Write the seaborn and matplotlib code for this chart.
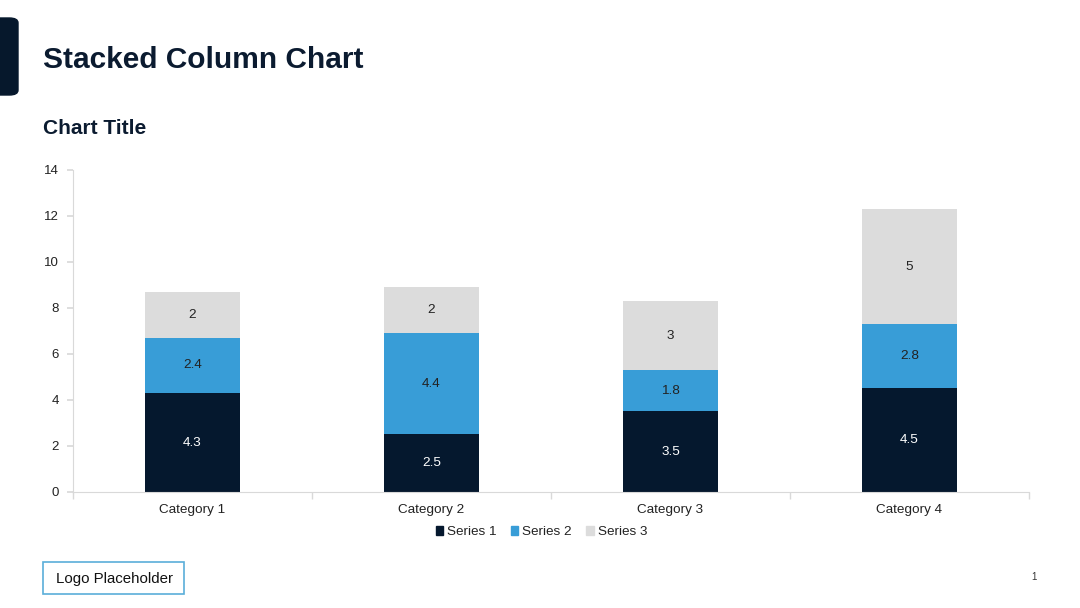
import numpy as np
import pandas as pd
import matplotlib.pyplot as plt
import seaborn as sns
from matplotlib.patches import FancyBboxPatch, Rectangle

categories = ['Category 1', 'Category 2', 'Category 3', 'Category 4']
series_names = ['Series 1', 'Series 2', 'Series 3']
series_1 = [4.3, 2.5, 3.5, 4.5]
series_2 = [2.4, 4.4, 1.8, 2.8]
series_3 = [2, 2, 3, 5]

colors = ['#05182E', '#389DD7', '#DCDCDC']
label_colors = ['white', '#222222', '#222222']
navy = '#0B1B30'

sns.set_theme(style='white')
plt.rcParams['font.family'] = ['Liberation Sans', 'DejaVu Sans']

df = pd.DataFrame({'category': categories, 'Series 1': series_1,
                   'Series 2': series_2, 'Series 3': series_3})

fig = plt.figure(figsize=(10.8, 6.08), dpi=100)
ax = fig.add_axes([0.0676, 0.1908, 0.8852, 0.5296])

bottom = np.zeros(len(categories))
for name, col, lcol in zip(series_names, colors, label_colors):
    vals = df[name].values
    sns.barplot(data=df, x='category', y=name, color=col, width=0.4,
                bottom=bottom, ax=ax, saturation=1, linewidth=0)
    for i, v in enumerate(vals):
        ax.text(i, bottom[i] + v / 2, f'{v:g}', ha='center', va='center',
                fontsize=9.7, color=lcol)
    bottom = bottom + vals

ax.set_xlim(-0.5, 3.5)
ax.set_ylim(0, 14)
ax.set_yticks(range(0, 15, 2))
ax.set_xlabel('')
ax.set_ylabel('')
for s in ['top', 'right']:
    ax.spines[s].set_visible(False)
for s in ['left', 'bottom']:
    ax.spines[s].set_color('#D9D9D9')
    ax.spines[s].set_linewidth(0.8)
ax.tick_params(axis='y', length=4, color='#D9D9D9', labelsize=9.5, pad=6,
               labelcolor='#222222', left=True)
ax.tick_params(axis='x', length=0, labelsize=9.7, pad=9, labelcolor='#222222')
ax.set_xticks([-0.5, 0.5, 1.5, 2.5, 3.5], minor=True)
ax.tick_params(axis='x', which='minor', length=5, color='#D9D9D9', bottom=True)

handles = [Rectangle((0, 0), 1, 1, color=c) for c in colors]
ax.legend(handles, series_names, loc='center', bbox_to_anchor=(0.49, -0.125),
          ncol=3, frameon=False, fontsize=9.7, handlelength=0.55,
          handleheight=0.55, handletextpad=0.3, columnspacing=1.05,
          labelcolor='#222222')

# slide decorations
fig.patches.append(FancyBboxPatch((-10 / 1080, 1 - 95 / 608), 28 / 1080, 77 / 608,
                                  boxstyle='round,pad=0,rounding_size=0.008',
                                  transform=fig.transFigure, color='#06182C'))
fig.text(43 / 1080, 1 - 68 / 608, 'Stacked Column Chart', fontsize=21.5,
         fontweight='bold', color=navy, va='baseline')
fig.text(43 / 1080, 1 - 134 / 608, 'Chart Title', fontsize=15,
         fontweight='bold', color=navy, va='baseline')
fig.patches.append(Rectangle((43 / 1080, 1 - 594 / 608), 141 / 1080, 32 / 608,
                             transform=fig.transFigure, fill=False,
                             edgecolor='#5AAED9', linewidth=1.2))
fig.text(114 / 1080, 1 - 579 / 608, 'Logo Placeholder', fontsize=10.8,
         color='#111111', ha='center', va='center')
fig.text(1034 / 1080, 1 - 577 / 608, '1', fontsize=7, color='#333333',
         ha='center', va='center')

fig.savefig('out.png', dpi=100)
